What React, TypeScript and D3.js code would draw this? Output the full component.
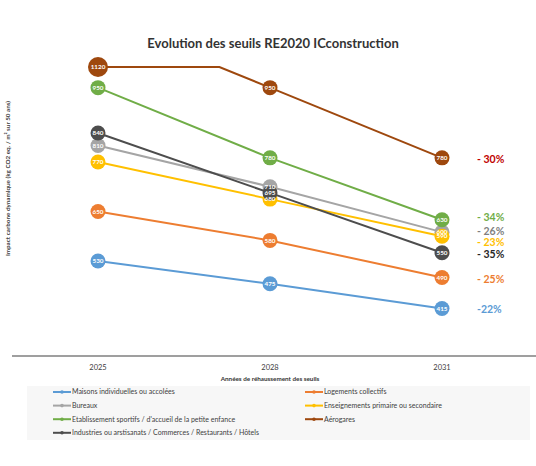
import React from "react";
import * as d3 from "d3";

// Threshold years and the carbon impact thresholds for each building type
const years = ["2025", "2028", "2031"];

const seriesNames = [
  "Maisons individuelles ou accolées",
  "Logements collectifs",
  "Bureaux",
  "Enseignements primaire ou secondaire",
  "Etablissement sportifs / d'accueil de la petite enfance",
  "Aérogares",
  "Industries ou arstisanats / Commerces / Restaurants / Hôtels",
];

const seriesColors = ["#5B9BD5", "#ED7D31", "#A5A5A5", "#FFC000", "#70AD47", "#9E480E", "#4D4D4D"];

const maisons = [530, 475, 415];
const logements = [650, 580, 490];
const bureaux = [810, 710, 600];
const enseignement = [770, 680, 590];
const sportifs = [950, 780, 630];
const aerogares = [1120, 950, 780];
const industries = [840, 695, 550];

const seriesValues = [maisons, logements, bureaux, enseignement, sportifs, aerogares, industries];

// reduction between 2025 and 2031, as written next to each line
const reductionLabels = ["-22%", "- 25%", "- 26%", "- 23%", "- 34%", "- 30%", "- 35%"];
const reductionColors = ["#5B9BD5", "#ED7D31", "#7F7F7F", "#FFC000", "#70AD47", "#C00000", "#262626"];
const reductionNudge = [0, 1, -1, 6, -3, 1, 1];

const yTicks = [300, 1000];

const W = 536;
const H = 466;
const FONT = "Lato, 'Open Sans', sans-serif";

// points of a series, clipped to the top of the value axis like a spreadsheet chart
function clippedPoints(values: number[], max: number) {
  const pts: { i: number; v: number }[] = [];
  values.forEach((v, i) => {
    if (i > 0) {
      const p = values[i - 1];
      if ((p > max) !== (v > max)) {
        const t = (p - max) / (p - v);
        pts.push({ i: i - 1 + t, v: max });
      }
    }
    pts.push({ i, v: Math.min(v, max) });
  });
  return pts;
}

export default function App() {
  const plot = { left: 12, right: 528, top: 67, bottom: 356 };

  const x = d3.scalePoint<string>().domain(years).range([plot.left, plot.right]).padding(0.5);
  const xi = d3.scaleLinear().domain([0, years.length - 1]).range([x(years[0])!, x(years[years.length - 1])!]);
  const y = d3.scaleLinear().domain([yTicks[0], yTicks[1]]).range([plot.bottom, plot.top]);

  const line = d3
    .line<{ i: number; v: number }>()
    .x((d) => xi(d.i))
    .y((d) => y(d.v));

  const legendRows = [
    [0, 1],
    [2, 3],
    [4, 5],
    [6],
  ];

  // one entry per data label: circle first, text drawn afterwards so every value stays readable
  const labels = seriesValues.flatMap((vals, s) =>
    vals.map((v, i) => ({
      s,
      text: String(v),
      cx: x(years[i])!,
      cy: y(Math.min(v, yTicks[1])),
    }))
  );

  return (
    <svg width={W} height={H} style={{ position: "absolute", left: 0, top: 0, fontFamily: FONT }}>
      <rect width={W} height={H} fill="#fff" />

      <text x={273} y={48} textAnchor="middle" fontSize={13} fontWeight="bold" fill="#333">
        Evolution des seuils RE2020 ICconstruction
      </text>

      <text
        transform={`translate(10,${(plot.top + 290) / 2}) rotate(-90)`}
        textAnchor="middle"
        fontSize={6.3}
        fontWeight="bold"
        fill="#404040"
      >
        Impact carbone dynamique (kg CO2 eq. / m² sur 50 ans)
      </text>

      {/* category axis */}
      <line x1={plot.left} x2={W} y1={plot.bottom} y2={plot.bottom} stroke="#7F7F7F" strokeWidth={1.5} />
      {years.map((yr) => (
        <text key={yr} x={x(yr)} y={370} textAnchor="middle" fontSize={7.5} fill="#404040">
          {yr}
        </text>
      ))}
      <text x={x(years[1])} y={381} textAnchor="middle" fontSize={6.3} fontWeight="bold" fill="#333">
        Années de réhaussement des seuils
      </text>

      {/* lines */}
      {seriesValues.map((vals, s) => (
        <path
          key={s}
          d={line(clippedPoints(vals, yTicks[1])) || ""}
          fill="none"
          stroke={seriesColors[s]}
          strokeWidth={2}
        />
      ))}

      {/* circle data labels */}
      {labels.map((l, k) => (
        <circle key={`c${k}`} cx={l.cx} cy={l.cy} r={l.text.length > 3 ? 10 : 7.5} fill={seriesColors[l.s]} />
      ))}
      {labels.map((l, k) => (
        <text key={`t${k}`} x={l.cx} y={l.cy + 2.2} textAnchor="middle" fontSize={6.3} fontWeight="bold" fill="#fff">
          {l.text}
        </text>
      ))}

      {/* reduction percentages */}
      {seriesValues.map((vals, s) => (
        <text
          key={`r${s}`}
          x={477}
          y={y(vals[vals.length - 1]) + 4 + reductionNudge[s]}
          fontSize={10.5}
          fontWeight="bold"
          fill={reductionColors[s]}
        >
          {reductionLabels[s]}
        </text>
      ))}

      {/* legend */}
      <rect x={27} y={386} width={503} height={54} fill="#F7F7F7" />
      {legendRows.map((row, r) =>
        row.map((s, c) => {
          const lx = c === 0 ? 53 : 305;
          const ly = 392 + r * 13.6;
          return (
            <g key={`lg${s}`}>
              <line x1={lx} x2={lx + 18} y1={ly} y2={ly} stroke={seriesColors[s]} strokeWidth={2} />
              <circle cx={lx + 9} cy={ly} r={1.8} fill={seriesColors[s]} />
              <text x={lx + 19} y={ly + 2.4} fontSize={7} fill="#404040">
                {seriesNames[s]}
              </text>
            </g>
          );
        })
      )}
    </svg>
  );
}
